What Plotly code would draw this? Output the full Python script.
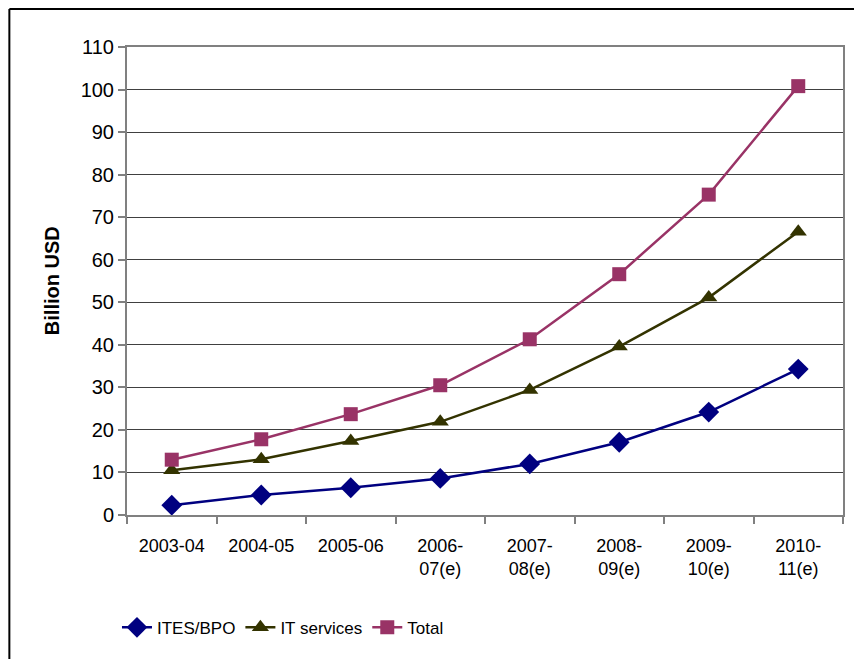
import plotly.graph_objects as go

categories = ["2003-04", "2004-05", "2005-06", "2006-<br>07(e)", "2007-<br>08(e)",
              "2008-<br>09(e)", "2009-<br>10(e)", "2010-<br>11(e)"]
ites_bpo = [2.3, 4.7, 6.4, 8.6, 12.0, 17.1, 24.2, 34.3]
it_services = [10.5, 13.1, 17.4, 21.9, 29.4, 39.6, 51.1, 66.6]
total = [13.0, 17.8, 23.7, 30.5, 41.3, 56.6, 75.3, 100.8]
y_ticks = list(range(0, 111, 10))

sans = "Liberation Sans, Arial"

fig = go.Figure()
fig.add_trace(go.Scatter(x=categories, y=ites_bpo, name="ITES/BPO", mode="lines+markers",
                         line=dict(color="#000080", width=2.5),
                         marker=dict(symbol="diamond", size=16, color="#000080")))
fig.add_trace(go.Scatter(x=categories, y=it_services, name="IT services", mode="lines+markers",
                         line=dict(color="#333300", width=2.5),
                         marker=dict(symbol="triangle-up", size=15, color="#333300")))
fig.add_trace(go.Scatter(x=categories, y=total, name="Total", mode="lines+markers",
                         line=dict(color="#993366", width=2.5),
                         marker=dict(symbol="square", size=14, color="#993366")))

fig.update_layout(
    width=854, height=659,
    margin=dict(l=127, r=9, t=47, b=144),
    paper_bgcolor="white", plot_bgcolor="white",
    showlegend=True,
    legend=dict(orientation="h", x=-0.014, y=-0.241, xanchor="left", yanchor="middle",
                font=dict(family=sans, size=17, color="black"),
                itemwidth=30, tracegroupgap=0, bgcolor="rgba(0,0,0,0)"),
    xaxis=dict(type="category", showgrid=False, showline=True, linecolor="#808080", linewidth=2,
               mirror=True, ticks="outside", tickson="boundaries", ticklen=7, tickcolor="#808080",
               tickwidth=1.5, tickfont=dict(family=sans, size=18, color="black"),
               ticklabelstandoff=13, range=[-0.5, 7.5]),
    yaxis=dict(range=[0, 110], tickvals=y_ticks, showgrid=True, gridcolor="#404040", gridwidth=1,
               showline=True, linecolor="#808080", linewidth=2, mirror=True,
               ticks="outside", ticklen=7, tickcolor="#808080", tickwidth=1.5,
               tickfont=dict(family=sans, size=20, color="black"), zeroline=False),
    annotations=[dict(text="<b>Billion USD</b>", textangle=-90, xref="paper", yref="paper",
                      x=-0.1045, y=0.5, showarrow=False, xanchor="center", yanchor="middle",
                      font=dict(family=sans, size=20, color="black"))],
    shapes=[
        dict(type="line", xref="paper", yref="paper", x0=-0.1643, x1=-0.1643, y0=-0.35, y1=1.0812,
             line=dict(color="black", width=2)),
        dict(type="line", xref="paper", yref="paper", x0=-0.1643, x1=1.05, y0=1.0812, y1=1.0812,
             line=dict(color="black", width=2)),
    ],
)

fig.write_html("out.html")
